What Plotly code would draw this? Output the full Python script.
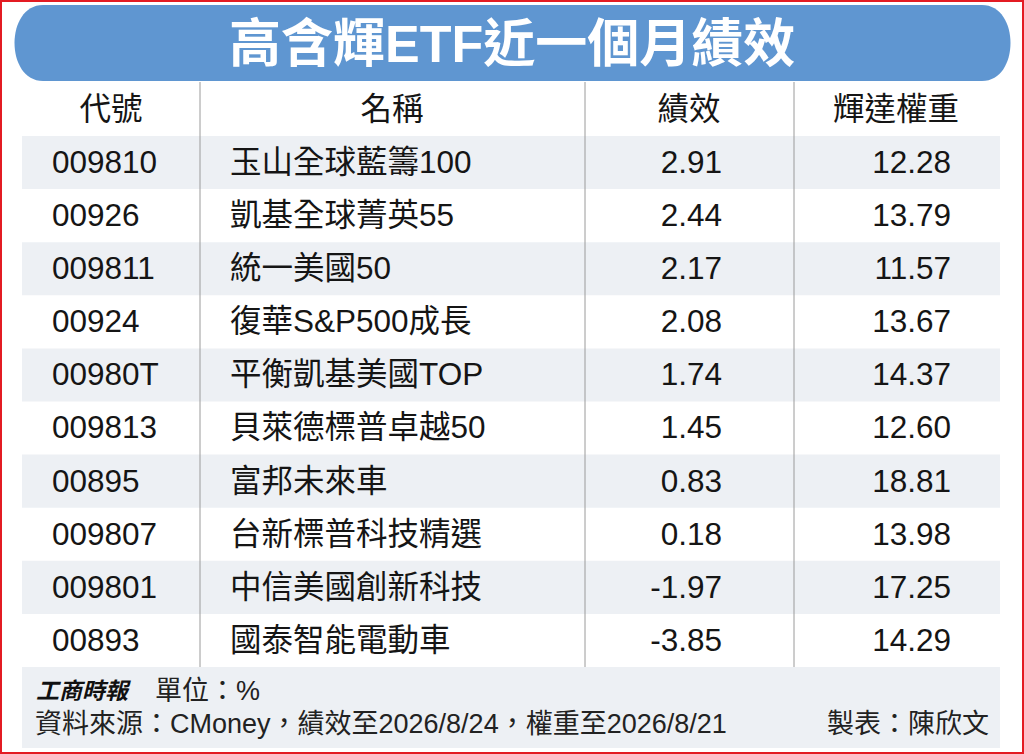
# 高含輝ETF近一個月績效 表格

import plotly.graph_objects as go

headers = ["代號", "名稱", "績效", "輝達權重"]
codes = ["009810", "00926", "009811", "00924", "00980T",
         "009813", "00895", "009807", "009801", "00893"]
names = ["玉山全球藍籌100", "凱基全球菁英55", "統一美國50", "復華S&P500成長", "平衡凱基美國TOP",
         "貝萊德標普卓越50", "富邦未來車", "台新標普科技精選", "中信美國創新科技", "國泰智能電動車"]
perf = [2.91, 2.44, 2.17, 2.08, 1.74, 1.45, 0.83, 0.18, -1.97, -3.85]
weight = [12.28, 13.79, 11.57, 13.67, 14.37, 12.60, 18.81, 13.98, 17.25, 14.29]

FONT = "Liberation Sans, Arial, Noto Sans CJK TC"
BLUE = "#5f96d1"
STRIPE = "#edf0f4"
TXT = "#151515"

W, H = 1024, 754
row_top, row_h = 136, 53.1
head_y = 112
ys = [row_top + row_h * (i + 0.5) + 2.5 for i in range(len(codes))]
table_bottom = row_top + row_h * len(codes)
cell_font = dict(size=31.5, color=TXT, family=FONT)

fig = go.Figure()

# 欄位內容
fig.add_trace(go.Scatter(x=[52] * len(codes), y=ys, text=codes, mode="text",
                         textposition="middle right", textfont=cell_font,
                         hoverinfo="skip", showlegend=False))
fig.add_trace(go.Scatter(x=[230] * len(names), y=ys, text=names, mode="text",
                         textposition="middle right", textfont=cell_font,
                         hoverinfo="skip", showlegend=False))
fig.add_trace(go.Scatter(x=[722] * len(perf), y=ys, text=[f"{v:.2f}" for v in perf], mode="text",
                         textposition="middle left", textfont=cell_font,
                         hoverinfo="skip", showlegend=False))
fig.add_trace(go.Scatter(x=[951] * len(weight), y=ys, text=[f"{v:.2f}" for v in weight], mode="text",
                         textposition="middle left", textfont=cell_font,
                         hoverinfo="skip", showlegend=False))
# 表頭
fig.add_trace(go.Scatter(x=[111, 392, 689, 896], y=[head_y] * 4, text=headers, mode="text",
                         textposition="middle center", textfont=cell_font,
                         hoverinfo="skip", showlegend=False))

shapes = []
# 斑馬紋
for i in range(0, len(codes), 2):
    shapes.append(dict(type="rect", xref="x", yref="y", x0=22, x1=1000,
                       y0=row_top + row_h * i, y1=row_top + row_h * (i + 1),
                       fillcolor=STRIPE, line_width=0, layer="below"))
# 頁尾底色
shapes.append(dict(type="rect", xref="x", yref="y", x0=22, x1=1000, y0=table_bottom, y1=748,
                   fillcolor=STRIPE, line_width=0, layer="below"))
# 直線
for xv in [200, 585, 794]:
    shapes.append(dict(type="line", xref="x", yref="y", x0=xv, x1=xv, y0=82, y1=table_bottom,
                       line=dict(color="#9a9a9a", width=1)))
# 標題藍色圓角條
x0, x1, y0, y1, r = 5, 1020, 5, 81, 38
path = (f"M {x0+r},{y0} L {x1-r},{y0} C {x1},{y0} {x1},{y1} {x1-r},{y1} "
        f"L {x0+r},{y1} C {x0},{y1} {x0},{y0} {x0+r},{y0} Z")
shapes.append(dict(type="path", xref="x", yref="y", path=path, fillcolor=BLUE, line_width=0, layer="below"))
# 紅色外框
shapes.append(dict(type="rect", xref="paper", yref="paper", x0=0, x1=1, y0=0, y1=1,
                   line=dict(color="#e31b23", width=4), fillcolor="rgba(0,0,0,0)"))

annotations = [
    dict(x=512, y=44, text="<b>高含輝ETF近一個月績效</b>", showarrow=False,
         font=dict(size=52, color="white", family=FONT), xanchor="center", yanchor="middle"),
    dict(x=34, y=691, text="<b><i>工商時報</i></b>", showarrow=False,
         font=dict(size=23, color="#111", family=FONT), xanchor="left", yanchor="middle"),
    dict(x=153, y=691, text="單位：%", showarrow=False,
         font=dict(size=27, color="#222", family=FONT), xanchor="left", yanchor="middle"),
    dict(x=33, y=724, text="資料來源：CMoney，績效至2026/8/24，權重至2026/8/21", showarrow=False,
         font=dict(size=27, color="#222", family=FONT), xanchor="left", yanchor="middle"),
    dict(x=991, y=724, text="製表：陳欣文", showarrow=False,
         font=dict(size=27, color="#222", family=FONT), xanchor="right", yanchor="middle"),
]

fig.update_layout(
    width=W, height=H,
    margin=dict(l=0, r=0, t=0, b=0),
    paper_bgcolor="white", plot_bgcolor="white",
    xaxis=dict(range=[0, W], visible=False, fixedrange=True),
    yaxis=dict(range=[H, 0], visible=False, fixedrange=True),
    shapes=shapes, annotations=annotations,
)

# 去掉頁面預設邊距, 讓圖剛好貼齊視窗
fig.write_html("out.html", config={"displayModeBar": False},
               post_script="document.body.style.margin='0';document.body.style.overflow='hidden';")
